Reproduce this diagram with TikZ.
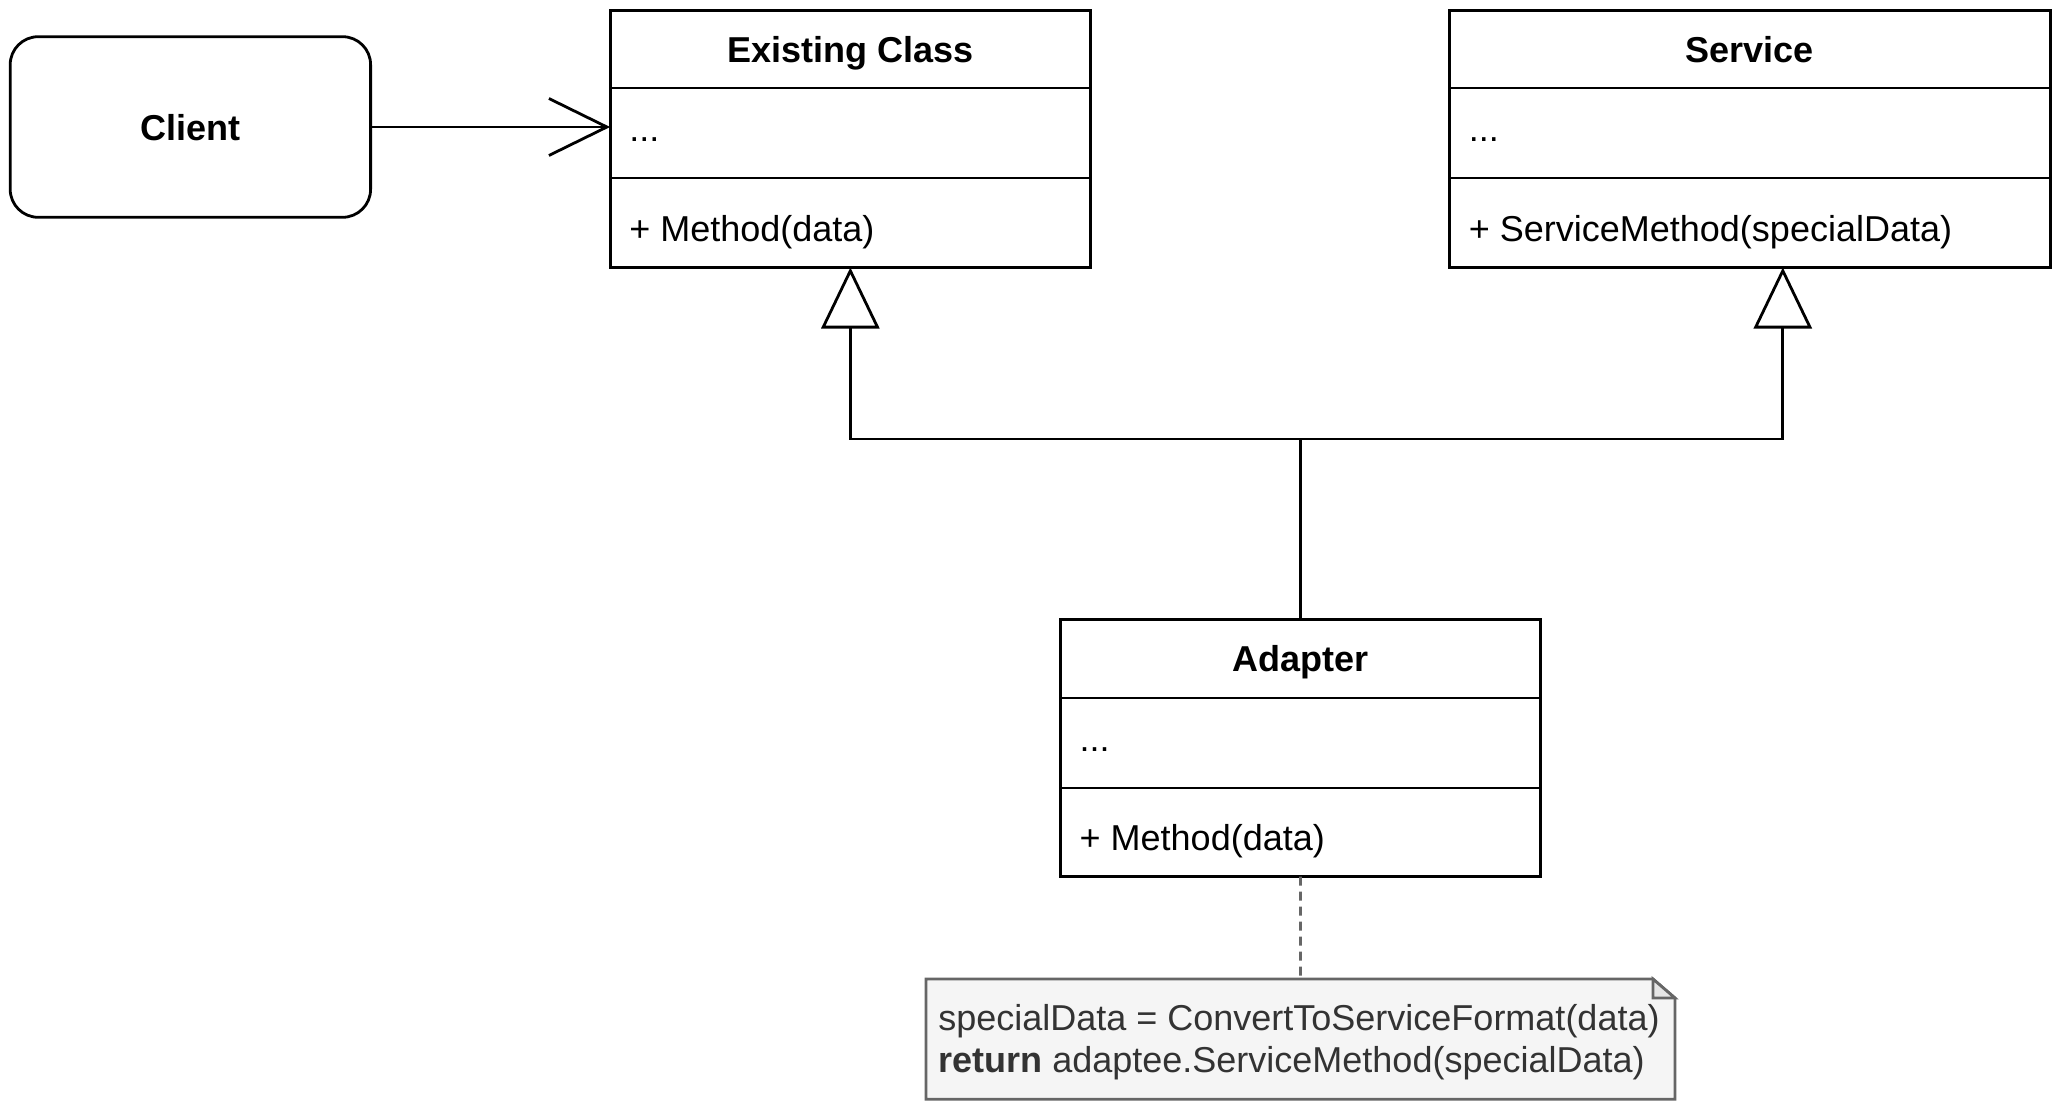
\documentclass[tikz,border=0pt]{standalone}
\usepackage{fontspec}
\setmainfont{Liberation Sans}
\usetikzlibrary{arrows.meta}
\definecolor{notefill}{HTML}{F5F5F5}
\definecolor{foldfill}{HTML}{E6E6E6}
\definecolor{noteline}{HTML}{666666}
\definecolor{notetext}{HTML}{333333}
\begin{document}
\begin{tikzpicture}[x=1pt,y=-1pt,line width=2.8pt,
  every node/.style={inner sep=0pt,outer sep=0pt},
  classbox/.style={draw,fill=white,minimum width=480.5pt,minimum height=257pt},
  clientbox/.style={draw,rounded corners=28pt,minimum width=360.4pt,minimum height=180.6pt},
  ttl/.style={anchor=base,font=\fontsize{36}{43}\selectfont\bfseries},
  member/.style={anchor=base west,font=\fontsize{36}{43}\selectfont},
  notetxt/.style={anchor=base west,font=\fontsize{36}{43}\selectfont,text=notetext},
  assoc/.style={-{Straight Barb[length=58pt 0,width=57pt 0]}},
  gen/.style={-{Triangle[open,length=61pt 0,width=58pt 0]}},
  noteline/.style={draw=noteline,dash pattern=on 9pt off 6pt}
]
\useasboundingbox (0,0) rectangle (2061,1110);

% Client
\node[clientbox] (client) at (190.4,127) {};
\node[ttl] (clientt) at (190.4,141) {Client};

% Existing Class
\node[classbox] (ec) at (850.35,139) {};
\draw (ec.north west) ++(0,77.6) -- ++(480.5,0);
\draw (ec.north west) ++(0,167.6) -- ++(480.5,0);
\node[ttl] (ect) at (850.35,62.9) {Existing Class};
\node[member] (eca) at (629.3,141.8) {...};
\node[member] (ecm) at (629.3,241.6) {+ Method(data)};

% Service
\node[classbox,minimum width=600.4pt] (svc) at (1749.9,139) {};
\draw (svc.north west) ++(0,77.6) -- ++(600.4,0);
\draw (svc.north west) ++(0,167.6) -- ++(600.4,0);
\node[ttl] (svct) at (1749.9,62.9) {Service};
\node[member] (svca) at (1468.9,141.8) {...};
\node[member] (svcm) at (1468.9,241.6) {+ ServiceMethod(specialData)};

% Adapter
\node[classbox] (ad) at (1300.4,748) {};
\draw (ad.north west) ++(0,78.4) -- ++(480.5,0);
\draw (ad.north west) ++(0,168.4) -- ++(480.5,0);
\node[ttl] (adt) at (1300.4,671.7) {Adapter};
\node[member] (ada) at (1079.7,751.7) {...};
\node[member] (adm) at (1079.7,850.5) {+ Method(data)};

% Note
\node[minimum width=749pt,minimum height=120.3pt] (note) at (1300.45,1039.15) {};
\draw[draw=noteline,fill=notefill]
  (note.north west) -- ([xshift=-22pt]note.north east) -- ([yshift=-19pt]note.north east)
  -- (note.south east) -- (note.south west) -- cycle;
\draw[draw=noteline,fill=foldfill,line join=miter]
  ([xshift=-22pt]note.north east) -- ([xshift=-22pt,yshift=-19pt]note.north east)
  -- ([yshift=-19pt]note.north east) -- cycle;
\node[notetxt] (n1) at (938.3,1030) {specialData = ConvertToServiceFormat(data)};
\node[notetxt] (n2) at (938.3,1072.5) {\textbf{return} adaptee.ServiceMethod(specialData)};

% Connectors
\coordinate (j) at (1300.4,439);
\coordinate (svctip) at (1782.8,267.5);
\draw[assoc] (client.east) -- (client.east -| ec.west);
\draw (ad.north) -- (j);
\draw[gen] (j) -| (ec.south);
\draw[gen] (j) -| (svctip);
\draw[noteline] (ad.south) -- (note.north);
\end{tikzpicture}
\end{document}
